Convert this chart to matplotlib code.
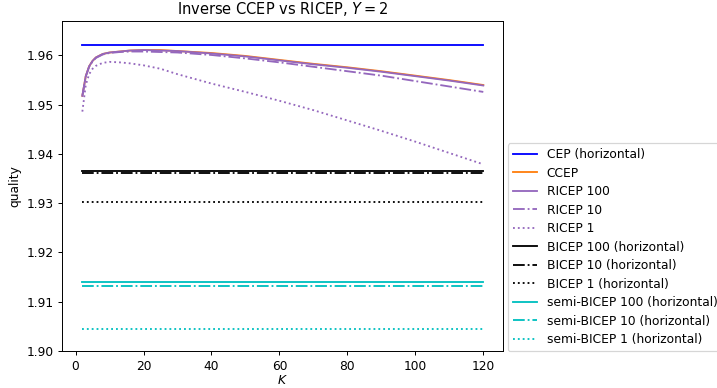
import numpy as np
import matplotlib
matplotlib.use("Agg")
import matplotlib.pyplot as plt

K = [2, 3, 4, 5, 6, 8, 10, 13, 16, 20, 25, 30, 40, 50, 60, 70, 80, 90, 100, 110, 120]

ccep = [1.9518, 1.9558, 1.9578, 1.9589, 1.9596, 1.9603, 1.9606, 1.9608, 1.9610, 1.9611,
        1.9611, 1.9609, 1.9605, 1.9599, 1.9591, 1.9583, 1.9576, 1.9568, 1.9559, 1.9550, 1.9540]
ricep_100 = [1.9518, 1.9558, 1.9578, 1.9589, 1.9596, 1.9603, 1.9606, 1.9608, 1.9610, 1.9611,
             1.9610, 1.9609, 1.9604, 1.9598, 1.9590, 1.9582, 1.9575, 1.9567, 1.9558, 1.9549, 1.9539]
ricep_10 = [1.9518, 1.9557, 1.9577, 1.9588, 1.9595, 1.9602, 1.9605, 1.9607, 1.9608, 1.9608,
            1.9607, 1.9606, 1.9601, 1.9594, 1.9586, 1.9577, 1.9568, 1.9559, 1.9548, 1.9537, 1.9526]
ricep_1 = [1.9486, 1.9540, 1.9562, 1.9573, 1.9579, 1.9585, 1.9587, 1.9586, 1.9584, 1.9580,
           1.9573, 1.9562, 1.9543, 1.9526, 1.9508, 1.9489, 1.9468, 1.9447, 1.9425, 1.9402, 1.9379]

# horizontal reference values
cep = 1.9622
bicep = {100: 1.9366, 10: 1.9361, 1: 1.9302}
semi_bicep = {100: 1.9141, 10: 1.9131, 1: 1.9044}

styles = {100: '-', 10: '-.', 1: ':'}

dpi = 88
fig = plt.figure(figsize=(717 / dpi, 388 / dpi), dpi=dpi)
ax = fig.add_subplot(111)
fig.subplots_adjust(left=0.0869, right=0.702, bottom=0.0954, top=0.9459)

ax.plot([K[0], K[-1]], [cep, cep], color='blue', label='CEP (horizontal)')
ax.plot(K, ccep, color='tab:orange', label='CCEP')
ax.plot(K, ricep_100, color='tab:purple', ls=styles[100], label='RICEP 100')
ax.plot(K, ricep_10, color='tab:purple', ls=styles[10], label='RICEP 10')
ax.plot(K, ricep_1, color='tab:purple', ls=styles[1], label='RICEP 1')
for n in [100, 10, 1]:
    ax.plot([K[0], K[-1]], [bicep[n], bicep[n]], color='black', ls=styles[n],
            label='BICEP %d (horizontal)' % n)
for n in [100, 10, 1]:
    ax.plot([K[0], K[-1]], [semi_bicep[n], semi_bicep[n]], color='c', ls=styles[n],
            label='semi-BICEP %d (horizontal)' % n)

ax.set_ylim(1.90, 1.967)
ax.set_yticks([1.90, 1.91, 1.92, 1.93, 1.94, 1.95, 1.96])
ax.set_title('Inverse CCEP vs RICEP, $Y = 2$')
ax.set_xlabel('$K$', labelpad=1)
ax.set_ylabel('quality')
ax.legend(loc='lower left', bbox_to_anchor=(1.01, 0), borderaxespad=0,
          labelspacing=0.45)

fig.savefig('out.png', dpi=dpi)
